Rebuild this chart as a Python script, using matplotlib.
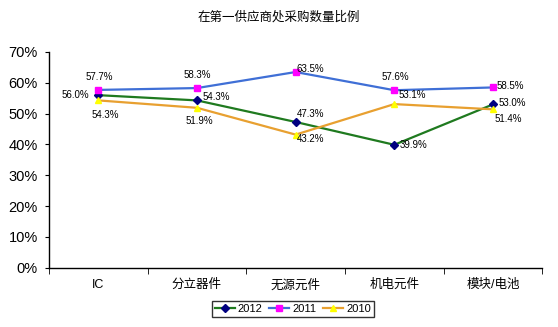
import matplotlib
matplotlib.use("Agg")
import matplotlib.pyplot as plt

plt.rcParams['font.family'] = ['Liberation Sans', 'Noto Sans CJK SC', 'DejaVu Sans']

# Datos del grafico
categorias = ["IC", "分立器件", "无源元件", "机电元件", "模块/电池"]
y2012 = [56.0, 54.3, 47.3, 39.9, 53.0]
y2011 = [57.7, 58.3, 63.5, 57.6, 58.5]
y2010 = [54.3, 51.9, 43.2, 53.1, 51.4]
yticks = [0, 10, 20, 30, 40, 50, 60, 70]

# offsets de las etiquetas (pixels) y alineacion
off2012 = [(-9, 0, 'right'), (6, 3, 'left'), (1, 8, 'left'), (5, 0, 'left'), (6, 1, 'left')]
off2011 = [(1, 13, 'center'), (0, 13, 'center'), (1, 3, 'left'), (1, 13, 'center'), (4, 1, 'left')]
off2010 = [(7, -15, 'center'), (2, -13, 'center'), (1, -4, 'left'), (4, 9, 'left'), (2, -10, 'left')]

fig = plt.figure(figsize=(5.58, 3.27), dpi=100)
ax = fig.add_axes([0.0878, 0.181, 0.884, 0.660])

x = list(range(len(categorias)))
series = [
    ("2012", y2012, '#1f7a1f', 'D', '#000080', 4, off2012),
    ("2011", y2011, '#3f6fd6', 's', '#ff00ff', 5, off2011),
    ("2010", y2010, '#e8a030', '^', '#ffff00', 5, off2010),
]

for nombre, vals, col, mk, mcol, ms, offs in series:
    ax.plot(x, vals, color=col, lw=1.6, marker=mk, markersize=ms,
            markerfacecolor=mcol, markeredgecolor=mcol, label=nombre)
    for xi, v, (dx, dy, ha) in zip(x, vals, offs):
        ax.annotate(f"{v:.1f}%", (xi, v), xytext=(dx, dy), textcoords='offset pixels',
                    ha=ha, va='center', fontsize=7)

ax.set_xlim(-0.5, len(categorias) - 0.5)
ax.set_ylim(0, 70)
ax.set_yticks(yticks)
ax.set_yticklabels([f"{t}%" for t in yticks], fontsize=10.5)
ax.set_xticks(x)
ax.set_xticklabels(categorias, fontsize=9)
ax.tick_params(axis='x', length=0, pad=8)
ax.set_xticks([i + 0.5 for i in range(-1, len(categorias))], minor=True)
ax.tick_params(axis='x', which='minor', length=4, direction='out', color='black')
ax.tick_params(axis='y', length=3, direction='out', pad=5)

for s in ['top', 'right']:
    ax.spines[s].set_visible(False)
for s in ['left', 'bottom']:
    ax.spines[s].set_color('black')
    ax.spines[s].set_linewidth(1)

fig.text(0.5, 0.948, "在第一供应商处采购数量比例", ha='center', va='center', fontsize=9)

leg = fig.legend(loc='center', bbox_to_anchor=(293 / 558, 1 - 309 / 327), ncol=3,
                 fontsize=8, frameon=True, fancybox=False, handlelength=1.8,
                 handletextpad=0.3, columnspacing=0.6, borderpad=0.25, borderaxespad=0)
leg.get_frame().set_edgecolor('black')
leg.get_frame().set_linewidth(1)

fig.savefig("out.png", dpi=100)
